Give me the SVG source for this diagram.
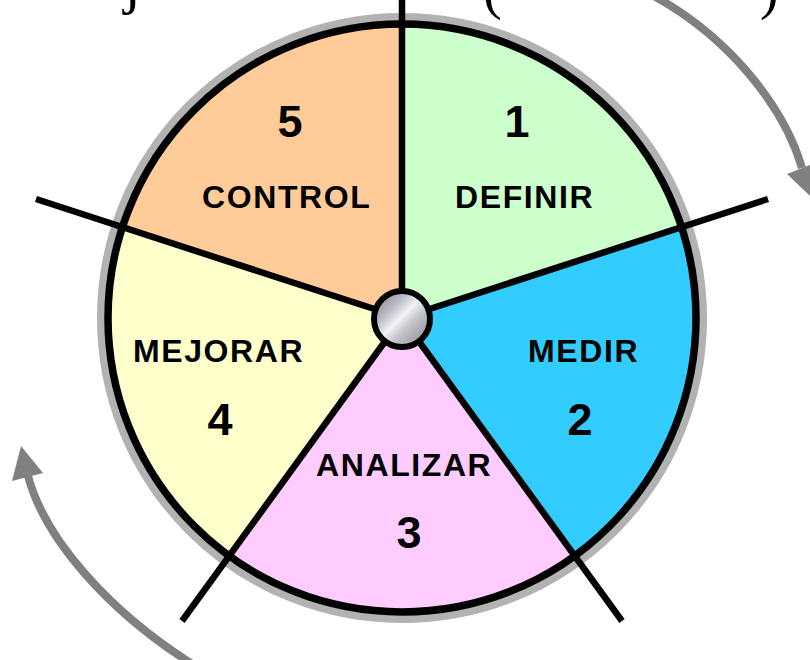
<svg xmlns="http://www.w3.org/2000/svg" width="810" height="660" viewBox="0 0 810 660">
<style>
.lbl{font-family:"Liberation Sans",Arial,sans-serif;font-weight:bold;font-size:32px;letter-spacing:1.6px;fill:#000}
.num{font-family:"Liberation Sans",Arial,sans-serif;font-weight:bold;font-size:45px;fill:#000;text-anchor:middle}
.frag{font-family:"Liberation Serif","Times New Roman",serif;fill:#000}
.sec{stroke:none}
.spoke{stroke:#000;stroke-width:6.5;stroke-linecap:butt;fill:none}
.arr{stroke:#808080;stroke-width:8;fill:none}
.head{fill:#808080;stroke:none}
</style>
<defs>
<linearGradient id="metal" x1="0" y1="0" x2="1" y2="1">
<stop offset="0" stop-color="#7d7d88"/>
<stop offset="0.3" stop-color="#b8b8c2"/>
<stop offset="0.48" stop-color="#f2f2f6"/>
<stop offset="0.62" stop-color="#c4c4cc"/>
<stop offset="1" stop-color="#80808a"/>
</linearGradient>
</defs>
<rect width="810" height="660" fill="#fff"/>
<g id="title-fragments">
<text class="frag" x="124" y="2" font-size="60">j</text>
<text class="frag" x="483" y="8" font-size="56">(</text>
<text class="frag" x="760" y="8" font-size="56">)</text>
</g>
<g id="rim">
<circle cx="402" cy="318" r="301" fill="none" stroke="#b2b2b2" stroke-width="8"/>
</g>
<g id="definir">
<path class="sec" fill="#ccffcc" d="M402 318 L402 24 A294 294 0 0 1 681.6 227.2 Z"/>
<text class="num" x="517" y="137">1</text>
<text class="lbl" x="455" y="208">DEFINIR</text>
</g>
<g id="medir">
<path class="sec" fill="#33ccff" d="M402 318 L681.6 227.2 A294 294 0 0 1 574.8 555.9 Z"/>
<text class="lbl" x="528" y="362">MEDIR</text>
<text class="num" x="580" y="435">2</text>
</g>
<g id="analizar">
<path class="sec" fill="#ffccff" d="M402 318 L574.8 555.9 A294 294 0 0 1 229.2 555.9 Z"/>
<text class="lbl" x="316" y="476">ANALIZAR</text>
<text class="num" x="409" y="548">3</text>
</g>
<g id="mejorar">
<path class="sec" fill="#ffffcc" d="M402 318 L229.2 555.9 A294 294 0 0 1 122.4 227.2 Z"/>
<text class="lbl" x="133" y="362">MEJORAR</text>
<text class="num" x="220" y="435">4</text>
</g>
<g id="control">
<path class="sec" fill="#ffcc99" d="M402 318 L122.4 227.2 A294 294 0 0 1 402 24 Z"/>
<text class="num" x="290" y="137">5</text>
<text class="lbl" x="202" y="208">CONTROL</text>
</g>
<g id="ring">
<circle cx="402" cy="318" r="294" fill="none" stroke="#000" stroke-width="7.5"/>
</g>
<g id="connectors">
<line class="spoke" x1="402" y1="318" x2="402" y2="0"/>
<line class="spoke" x1="402" y1="318" x2="768" y2="199"/>
<line class="spoke" x1="402" y1="318" x2="622" y2="621"/>
<line class="spoke" x1="402" y1="318" x2="182" y2="621"/>
<line class="spoke" x1="402" y1="318" x2="36" y2="199"/>
<path class="arr" d="M652 -5 C728 36 784 106 802 168"/>
<polygon class="head" points="812,198 787,174 818,162"/>
<path class="arr" d="M192 664 C110 612 45 540 28 476"/>
<polygon class="head" points="21,446 12,481 43,473"/>
</g>
<g id="hub">
<circle cx="402" cy="319" r="28" fill="url(#metal)" stroke="#000" stroke-width="6"/>
</g>
</svg>
